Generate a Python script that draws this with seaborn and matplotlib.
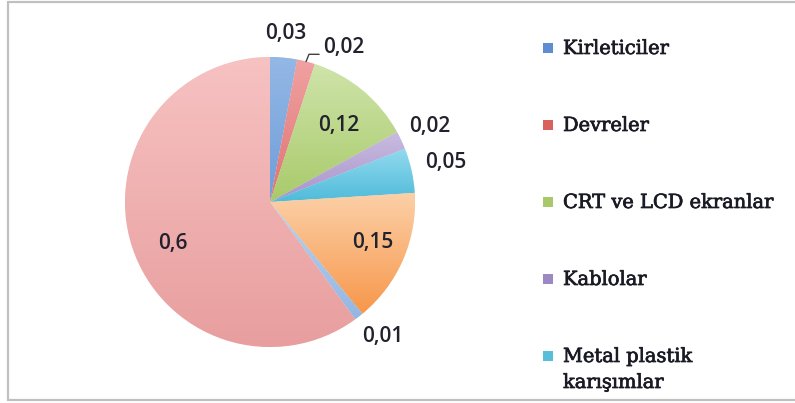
import numpy as np
import matplotlib
matplotlib.use("Agg")
import matplotlib.pyplot as plt
import matplotlib.patheffects as pe
from matplotlib.colors import to_rgb
from matplotlib.lines import Line2D
from matplotlib.patches import Rectangle
import seaborn as sns

# Shares of each component, clockwise from 12 o'clock
values = [0.03, 0.02, 0.12, 0.02, 0.05, 0.15, 0.01, 0.6]
value_labels = ["0,03", "0,02", "0,12", "0,02", "0,05", "0,15", "0,01", "0,6"]
legend_labels = ["Kirleticiler", "Devreler", "CRT ve LCD ekranlar",
                 "Kablolar", "Metal plastik\nkarışımlar"]

# Slice shading: light tone at the top of each slice, deeper at the bottom
top_colors = ["#94B8E6", "#F0A2A2", "#CFE4AA", "#C9BBE0", "#93DAEE",
              "#FCD0A8", "#BBD4EF", "#F7C2C2"]
bottom_colors = ["#6E9DD8", "#E07272", "#A8CA6A", "#A894CB", "#4FBBDA",
                 "#F7974A", "#93B6E2", "#E89E9E"]
legend_colors = ["#5F8ED0", "#D9605D", "#A9C86A", "#9C88C3", "#58BED8"]

# Label placement: (radius as fraction of pie radius, angle shift in degrees)
label_place = [(1.17, 0), (None, 0), (0.71, -2), (1.22, 0), (1.24, 0),
               (0.76, 2), (1.21, 2), (0.73, 5)]

sns.set_theme(style="white")
plt.rcParams["font.family"] = ["Open Sans", "DejaVu Sans"]

W, H = 795, 403
fig = plt.figure(figsize=(W / 100, H / 100), dpi=100)
fig.patch.set_facecolor("white")


def fx(px):
    return px / W


def fy(py):
    return 1 - py / H


# Pie axes: centre (270, 202) px, radius 145 px
cx, cy, R = 270, 202, 145
ax = fig.add_axes([fx(cx - R), fy(cy + R), 2 * R / W, 2 * R / H])

palette = sns.color_palette(bottom_colors)
wedges, _ = ax.pie(values, colors=palette, startangle=90, counterclock=False,
                   radius=1.0, wedgeprops=dict(edgecolor="white", linewidth=0.5))

grad = np.linspace(0, 1, 256)[:, None, None]
for w, ct, cb in zip(wedges, top_colors, bottom_colors):
    top = np.array(to_rgb(ct))[None, None, :]
    bot = np.array(to_rgb(cb))[None, None, :]
    img = top * (1 - grad) + bot * grad
    bb = w.get_path().get_extents()
    im = ax.imshow(img, extent=(bb.x0, bb.x1, bb.y0, bb.y1), origin="upper",
                   aspect="auto", interpolation="bilinear",
                   zorder=w.get_zorder() + 0.1)
    im.set_clip_path(w)

ax.set_xlim(-1, 1)
ax.set_ylim(-1, 1)
ax.set_aspect("equal")
ax.axis("off")

text_color = "#22222E"
label_size = 15
for w, lab, (r, dang) in zip(wedges, value_labels, label_place):
    mid = np.deg2rad((w.theta1 + w.theta2) / 2)
    if r is None:
        # small slice: leader line out to the label
        p0 = np.array([np.cos(mid), np.sin(mid)])
        p1 = p0 + np.array([0.02, 0.05])
        p2 = p1 + np.array([0.07, 0.0])
        ax.add_line(Line2D([p0[0], p1[0], p2[0]], [p0[1], p1[1], p2[1]],
                           color="#404040", lw=1.0, clip_on=False, zorder=5))
        ax.text(p2[0] + 0.03, p2[1] + 0.05, lab, ha="left", va="center",
                fontsize=label_size, color=text_color, weight="semibold",
                zorder=6)
        continue
    a = mid + np.deg2rad(dang)
    ax.text(r * np.cos(a), r * np.sin(a), lab, ha="center", va="center",
            fontsize=label_size, color=text_color, weight="semibold", zorder=6)

# Legend, drawn entry by entry
sq = 10
y0, step, line_gap = 48, 77, 26
legend_fx = [pe.withStroke(linewidth=0.5, foreground="#1A1A24")]
for i, (lab, col) in enumerate(zip(legend_labels, legend_colors)):
    yc = y0 + i * step
    fig.add_artist(Rectangle((fx(543), fy(yc + sq / 2)), sq / W, sq / H,
                             transform=fig.transFigure, facecolor=col,
                             edgecolor="none"))
    for j, line in enumerate(lab.split("\n")):
        fig.text(fx(563), fy(yc + 1 + j * line_gap), line, ha="left",
                 va="center", fontsize=14, color="#1A1A24",
                 family=["DejaVu Serif"], path_effects=legend_fx)

# Frame lines around the chart area
frame_kw = dict(color="#C0C0C0", lw=1.6, transform=fig.transFigure)
fig.add_artist(Line2D([fx(8), fx(8)], [fy(1.5), fy(400)], **frame_kw))
fig.add_artist(Line2D([fx(8), 1.0], [fy(1.5), fy(1.5)], **frame_kw))
fig.add_artist(Line2D([fx(8), 1.0], [fy(400), fy(400)], **frame_kw))

fig.savefig("out.png", dpi=100, facecolor="white")
